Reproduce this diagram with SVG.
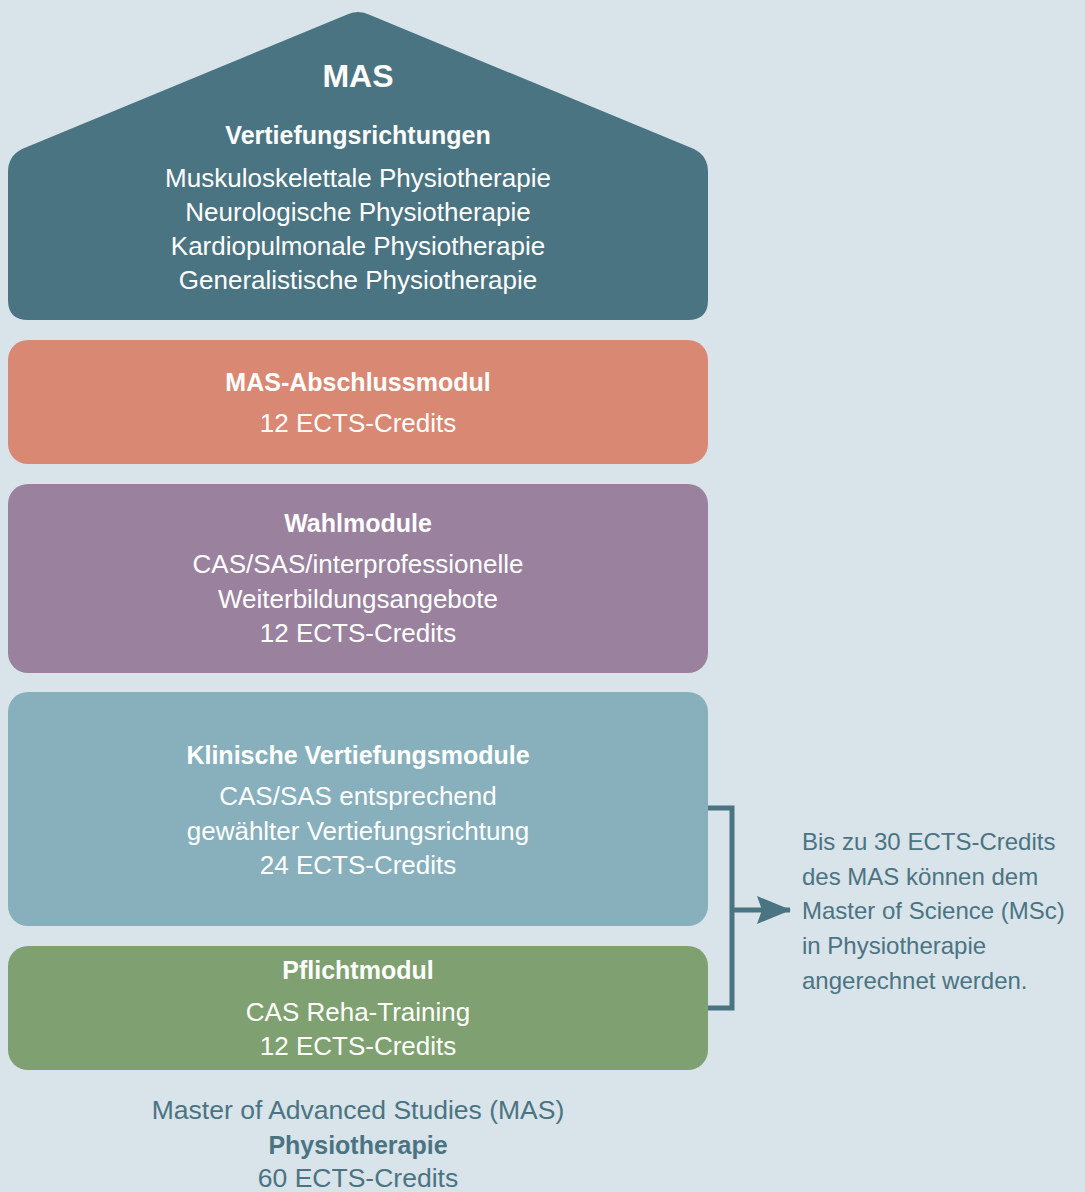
<svg xmlns="http://www.w3.org/2000/svg" width="1085" height="1192" viewBox="0 0 1085 1192">
<style>
.t{font-family:"Liberation Sans","Noto Sans",sans-serif;font-size:26px;fill:#ffffff;text-anchor:middle}
.b{font-weight:bold;font-size:25px}
.big{font-weight:bold;font-size:32px}
.d{fill:#4b7482;font-size:26.5px}
.db{fill:#4b7482;font-size:25px;font-weight:bold}
.side{font-family:"Liberation Sans","Noto Sans",sans-serif;font-size:24px;fill:#4b7482}
</style>
<defs>
<marker id="ah" viewBox="0 0 34 28" refX="33" refY="14" markerWidth="34" markerHeight="28" markerUnits="userSpaceOnUse" orient="auto">
<path d="M0,0 L34,14 L0,28 L5,14 Z" fill="#4b7482"/>
</marker>
</defs>
<rect width="1085" height="1192" fill="#d8e3ea"/>
<g id="mas-house">
<path d="M22,149 L346,15 Q358,9 370,15 L694,149 Q708,156 708,172 L708,300 Q708,320 688,320 L28,320 Q8,320 8,300 L8,172 Q8,156 22,149 Z" fill="#4b7482"/>
<text class="t big" x="358" y="87">MAS</text>
<text class="t b" x="358" y="144">Vertiefungsrichtungen</text>
<text class="t" x="358" y="187">Muskuloskelettale Physiotherapie</text>
<text class="t" x="358" y="221">Neurologische Physiotherapie</text>
<text class="t" x="358" y="255">Kardiopulmonale Physiotherapie</text>
<text class="t" x="358" y="289">Generalistische Physiotherapie</text>
</g>
<g id="abschluss">
<rect x="8" y="340" width="700" height="124" rx="20" fill="#d98873"/>
<text class="t b" x="358" y="391">MAS-Abschlussmodul</text>
<text class="t" x="358" y="432">12 ECTS-Credits</text>
</g>
<g id="wahl">
<rect x="8" y="484" width="700" height="189" rx="20" fill="#9a829e"/>
<text class="t b" x="358" y="532">Wahlmodule</text>
<text class="t" x="358" y="573">CAS/SAS/interprofessionelle</text>
<text class="t" x="358" y="608">Weiterbildungsangebote</text>
<text class="t" x="358" y="642">12 ECTS-Credits</text>
</g>
<g id="klinisch">
<rect x="8" y="692" width="700" height="234" rx="20" fill="#87b0bc"/>
<text class="t b" x="358" y="764">Klinische Vertiefungsmodule</text>
<text class="t" x="358" y="805">CAS/SAS entsprechend</text>
<text class="t" x="358" y="840">gewählter Vertiefungsrichtung</text>
<text class="t" x="358" y="874">24 ECTS-Credits</text>
</g>
<g id="pflicht">
<rect x="8" y="946" width="700" height="124" rx="20" fill="#7fa070"/>
<text class="t b" x="358" y="979">Pflichtmodul</text>
<text class="t" x="358" y="1021">CAS Reha-Training</text>
<text class="t" x="358" y="1055">12 ECTS-Credits</text>
</g>
<g id="connectors">
<path d="M708,808 L732,808 L732,1008 L708,1008" fill="none" stroke="#4b7482" stroke-width="5"/>
<line x1="732" y1="910" x2="790" y2="910" stroke="#4b7482" stroke-width="5" marker-end="url(#ah)"/>
</g>
<g id="note">
<text class="side" x="802" y="850">Bis zu 30 ECTS-Credits</text>
<text class="side" x="802" y="885">des MAS können dem</text>
<text class="side" x="802" y="919">Master of Science (MSc)</text>
<text class="side" x="802" y="954">in Physiotherapie</text>
<text class="side" x="802" y="989">angerechnet werden.</text>
</g>
<g id="summary">
<text class="t d" x="358" y="1119">Master of Advanced Studies (MAS)</text>
<text class="t db" x="358" y="1154">Physiotherapie</text>
<text class="t d" x="358" y="1187">60 ECTS-Credits</text>
</g>
</svg>
